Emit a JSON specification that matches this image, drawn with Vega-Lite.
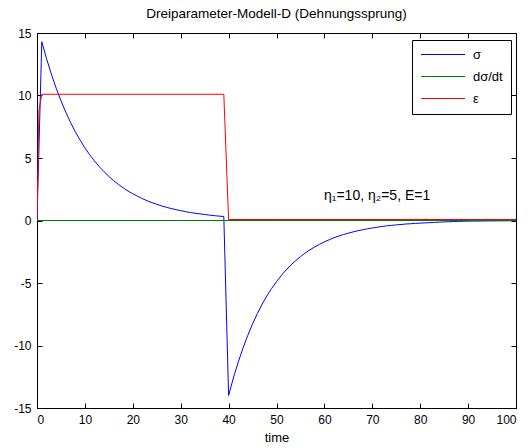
{
  "$schema": "https://vega.github.io/schema/vega-lite/v6.json",
  "autosize": "none",
  "width": 479,
  "height": 375,
  "padding": {"left": 37, "top": 33, "right": 16, "bottom": 40},
  "background": "white",
  "title": {"text": "Dreiparameter-Modell-D (Dehnungssprung)", "fontSize": 13.5, "fontWeight": "normal", "font": "Liberation Sans", "color": "black", "offset": 7, "anchor": "middle"},
  "config": {
    "view": {"stroke": "black", "strokeWidth": 1},
    "axis": {"grid": false, "domain": false, "labelFont": "Liberation Sans", "labelFontSize": 12, "labelColor": "black", "titleFont": "Liberation Sans", "titleFontSize": 13, "titleFontWeight": "normal", "titleColor": "black"},
    "legend": {"labelFont": "Liberation Sans", "labelFontSize": 13, "labelColor": "black"}
  },
  "datasets": {
    "curves": [
      {"t": 0, "v": 0, "s": "σ"},
      {"t": 1, "v": 14.3, "s": "σ"},
      {"t": 2, "v": 12.94, "s": "σ"},
      {"t": 3, "v": 11.71, "s": "σ"},
      {"t": 4, "v": 10.59, "s": "σ"},
      {"t": 5, "v": 9.59, "s": "σ"},
      {"t": 6, "v": 8.67, "s": "σ"},
      {"t": 7, "v": 7.85, "s": "σ"},
      {"t": 8, "v": 7.1, "s": "σ"},
      {"t": 9, "v": 6.43, "s": "σ"},
      {"t": 10, "v": 5.81, "s": "σ"},
      {"t": 11, "v": 5.26, "s": "σ"},
      {"t": 12, "v": 4.76, "s": "σ"},
      {"t": 13, "v": 4.31, "s": "σ"},
      {"t": 14, "v": 3.9, "s": "σ"},
      {"t": 15, "v": 3.53, "s": "σ"},
      {"t": 16, "v": 3.19, "s": "σ"},
      {"t": 17, "v": 2.89, "s": "σ"},
      {"t": 18, "v": 2.61, "s": "σ"},
      {"t": 19, "v": 2.36, "s": "σ"},
      {"t": 20, "v": 2.14, "s": "σ"},
      {"t": 21, "v": 1.94, "s": "σ"},
      {"t": 22, "v": 1.75, "s": "σ"},
      {"t": 23, "v": 1.58, "s": "σ"},
      {"t": 24, "v": 1.43, "s": "σ"},
      {"t": 25, "v": 1.3, "s": "σ"},
      {"t": 26, "v": 1.17, "s": "σ"},
      {"t": 27, "v": 1.06, "s": "σ"},
      {"t": 28, "v": 0.96, "s": "σ"},
      {"t": 29, "v": 0.87, "s": "σ"},
      {"t": 30, "v": 0.79, "s": "σ"},
      {"t": 31, "v": 0.71, "s": "σ"},
      {"t": 32, "v": 0.64, "s": "σ"},
      {"t": 33, "v": 0.58, "s": "σ"},
      {"t": 34, "v": 0.53, "s": "σ"},
      {"t": 35, "v": 0.48, "s": "σ"},
      {"t": 36, "v": 0.43, "s": "σ"},
      {"t": 37, "v": 0.39, "s": "σ"},
      {"t": 38, "v": 0.35, "s": "σ"},
      {"t": 39, "v": 0.32, "s": "σ"},
      {"t": 40, "v": -14.0, "s": "σ"},
      {"t": 41, "v": -12.6, "s": "σ"},
      {"t": 42, "v": -11.34, "s": "σ"},
      {"t": 43, "v": -10.21, "s": "σ"},
      {"t": 44, "v": -9.19, "s": "σ"},
      {"t": 45, "v": -8.27, "s": "σ"},
      {"t": 46, "v": -7.45, "s": "σ"},
      {"t": 47, "v": -6.7, "s": "σ"},
      {"t": 48, "v": -6.03, "s": "σ"},
      {"t": 49, "v": -5.43, "s": "σ"},
      {"t": 50, "v": -4.89, "s": "σ"},
      {"t": 51, "v": -4.4, "s": "σ"},
      {"t": 52, "v": -3.96, "s": "σ"},
      {"t": 53, "v": -3.56, "s": "σ"},
      {"t": 54, "v": -3.21, "s": "σ"},
      {"t": 55, "v": -2.89, "s": "σ"},
      {"t": 56, "v": -2.6, "s": "σ"},
      {"t": 57, "v": -2.34, "s": "σ"},
      {"t": 58, "v": -2.11, "s": "σ"},
      {"t": 59, "v": -1.9, "s": "σ"},
      {"t": 60, "v": -1.71, "s": "σ"},
      {"t": 61, "v": -1.54, "s": "σ"},
      {"t": 62, "v": -1.38, "s": "σ"},
      {"t": 63, "v": -1.24, "s": "σ"},
      {"t": 64, "v": -1.12, "s": "σ"},
      {"t": 65, "v": -1.01, "s": "σ"},
      {"t": 66, "v": -0.91, "s": "σ"},
      {"t": 67, "v": -0.82, "s": "σ"},
      {"t": 68, "v": -0.74, "s": "σ"},
      {"t": 69, "v": -0.66, "s": "σ"},
      {"t": 70, "v": -0.6, "s": "σ"},
      {"t": 71, "v": -0.54, "s": "σ"},
      {"t": 72, "v": -0.48, "s": "σ"},
      {"t": 73, "v": -0.43, "s": "σ"},
      {"t": 74, "v": -0.39, "s": "σ"},
      {"t": 75, "v": -0.35, "s": "σ"},
      {"t": 76, "v": -0.32, "s": "σ"},
      {"t": 77, "v": -0.28, "s": "σ"},
      {"t": 78, "v": -0.26, "s": "σ"},
      {"t": 79, "v": -0.23, "s": "σ"},
      {"t": 80, "v": -0.21, "s": "σ"},
      {"t": 81, "v": -0.19, "s": "σ"},
      {"t": 82, "v": -0.17, "s": "σ"},
      {"t": 83, "v": -0.15, "s": "σ"},
      {"t": 84, "v": -0.13, "s": "σ"},
      {"t": 85, "v": -0.11, "s": "σ"},
      {"t": 86, "v": -0.1, "s": "σ"},
      {"t": 87, "v": -0.08, "s": "σ"},
      {"t": 88, "v": -0.07, "s": "σ"},
      {"t": 89, "v": -0.06, "s": "σ"},
      {"t": 90, "v": -0.05, "s": "σ"},
      {"t": 95, "v": -0.03, "s": "σ"},
      {"t": 100, "v": -0.02, "s": "σ"},
      {"t": 0, "v": 0, "s": "dσ/dt"},
      {"t": 50, "v": 0, "s": "dσ/dt"},
      {"t": 100, "v": 0, "s": "dσ/dt"},
      {"t": 0, "v": 0, "s": "ε"},
      {"t": 0.4, "v": 8.8, "s": "ε"},
      {"t": 1, "v": 10.1, "s": "ε"},
      {"t": 39, "v": 10.1, "s": "ε"},
      {"t": 40, "v": 0.08, "s": "ε"},
      {"t": 100, "v": 0.08, "s": "ε"}
    ],
    "note": [
      {"t": 59.9, "v": 2.0, "label": "η₁=10, η₂=5, E=1"}
    ]
  },
  "layer": [
    {
      "data": {"name": "curves"},
      "transform": [{"filter": "datum.s == 'σ'"}],
      "mark": {"type": "line", "strokeWidth": 1, "clip": true},
      "encoding": {
        "x": {"field": "t", "type": "quantitative", "scale": {"domain": [0, 100], "nice": false}, "axis": {"orient": "bottom", "tickCount": 10, "title": "time", "tickColor": "black", "tickWidth": 1, "tickSize": 5, "offset": -5, "labelPadding": 6, "titlePadding": 6, "labelExpr": "'' + datum.value"}},
        "y": {"field": "v", "type": "quantitative", "scale": {"domain": [-15, 15], "nice": false}, "axis": {"orient": "left", "tickCount": 6, "title": null, "tickColor": "black", "tickWidth": 1, "tickSize": 5, "offset": -5, "labelPadding": 6, "labelExpr": "'' + datum.value"}},
        "color": {"field": "s", "type": "nominal", "scale": {"domain": ["σ", "dσ/dt", "ε"], "range": ["#0000ff", "#008000", "#ff0000"]},
          "legend": {"title": null, "orient": "none", "legendX": 375, "legendY": 7, "symbolType": "M-4,0L4,0", "symbolSize": 121, "symbolOffset": 16.5, "symbolStrokeWidth": 1, "padding": 8, "strokeColor": "black", "fillColor": "white", "cornerRadius": 0, "labelOffset": 23.5, "rowPadding": 8}},
        "order": {"field": "t", "type": "quantitative"}
      }
    },
    {
      "data": {"name": "curves"},
      "transform": [{"filter": "datum.s == 'dσ/dt'"}],
      "mark": {"type": "line", "strokeWidth": 1, "clip": true},
      "encoding": {
        "x": {"field": "t", "type": "quantitative", "scale": {"domain": [0, 100], "nice": false}, "axis": {"orient": "top", "tickCount": 10, "labels": false, "title": null, "tickColor": "black", "tickWidth": 1, "tickSize": 5, "offset": -5}},
        "y": {"field": "v", "type": "quantitative", "scale": {"domain": [-15, 15], "nice": false}, "axis": {"orient": "right", "tickCount": 6, "labels": false, "title": null, "tickColor": "black", "tickWidth": 1, "tickSize": 5, "offset": -5}},
        "color": {"field": "s", "type": "nominal"},
        "order": {"field": "t", "type": "quantitative"}
      }
    },
    {
      "data": {"name": "curves"},
      "transform": [{"filter": "datum.s == 'ε'"}],
      "mark": {"type": "line", "strokeWidth": 1, "clip": true},
      "encoding": {
        "x": {"field": "t", "type": "quantitative", "axis": null},
        "y": {"field": "v", "type": "quantitative", "axis": null},
        "color": {"field": "s", "type": "nominal"},
        "order": {"field": "t", "type": "quantitative"}
      }
    },
    {
      "data": {"name": "note"},
      "mark": {"type": "text", "align": "left", "baseline": "middle", "font": "Liberation Sans", "fontSize": 14, "color": "black"},
      "encoding": {
        "x": {"field": "t", "type": "quantitative", "axis": null},
        "y": {"field": "v", "type": "quantitative", "axis": null},
        "text": {"field": "label"}
      }
    }
  ],
  "resolve": {"axis": {"x": "independent", "y": "independent"}}
}
